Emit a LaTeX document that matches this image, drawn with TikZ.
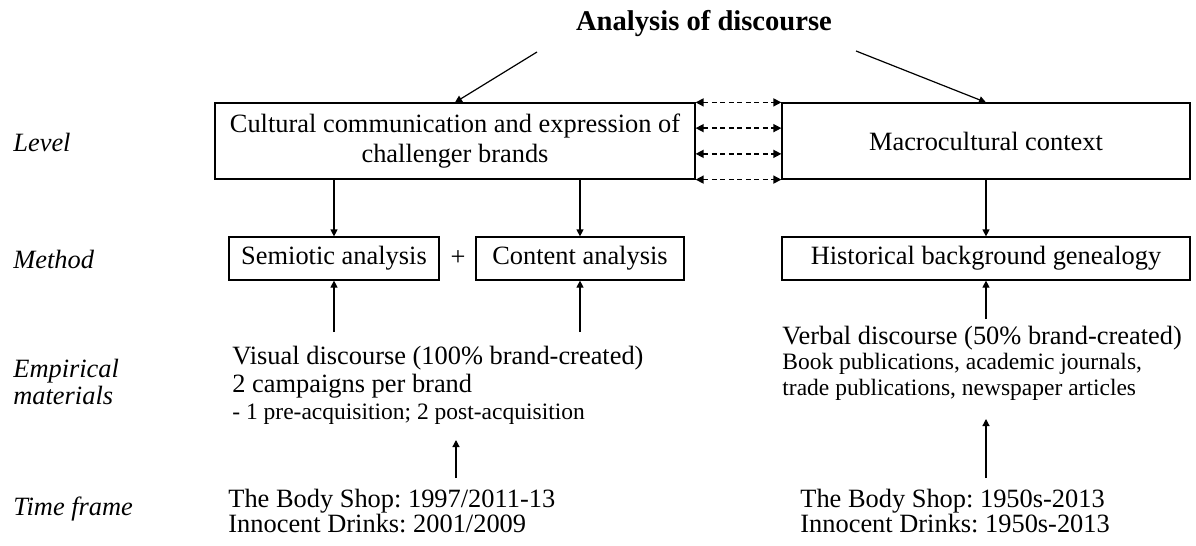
\documentclass[tikz,border=0pt]{standalone}
\usepackage{fontspec}
\setmainfont{Liberation Serif}
\usepackage{tikz}
\usetikzlibrary{positioning, arrows.meta, calc}

\newcommand{\mainsz}{\fontsize{13.2pt}{15pt}\selectfont}
\newcommand{\smallsz}{\fontsize{11.75pt}{12.5pt}\selectfont}
\frenchspacing

\tikzset{
    box/.style={draw, line width=0.6pt, inner sep=0pt, align=center, font=\mainsz},
    arr/.style={-{Triangle[length=3.5pt,width=3.5pt]}, line width=0.6pt},
    darr/.style={{Triangle[length=4pt,width=4pt]}-{Triangle[length=4pt,width=4pt]},
        line width=0.7pt, dash pattern=on 2.5pt off 1.75pt},
    rowlbl/.style={anchor=base west, inner sep=0pt, font=\mainsz\itshape},
    txt/.style={anchor=base west, inner sep=0pt, font=\mainsz},
    smalltxt/.style={anchor=base west, inner sep=0pt, font=\smallsz}
}

\begin{document}
\begin{tikzpicture}[x=0.5pt, y=-0.5pt]
    \useasboundingbox (0,0) rectangle (1196,546);

    % title
    \node[anchor=base, inner sep=0pt, font=\fontsize{14.3pt}{16pt}\selectfont\bfseries] (title) at (704,31) {Analysis of discourse};

    % row labels
    \node[rowlbl] (lLevel) at (13,151) {Level};
    \node[rowlbl] (lMethod) at (13,268) {Method};
    \node[rowlbl] (lEmp) at (13,377) {Empirical};
    \node[rowlbl] (lMat) at (13,404) {materials};
    \node[rowlbl] (lTime) at (13,515) {Time frame};

    % level
    \node[box, minimum width=240pt, minimum height=38pt] (cult) at (455,141)
        {Cultural communication and expression of\\challenger brands};
    \node[box, minimum width=204pt, minimum height=38pt] (macro) at (986,141) {Macrocultural context};

    % method
    \node[box, minimum width=105pt, minimum height=21.5pt] (semio) at (334,258.5) {Semiotic analysis};
    \node[inner sep=0pt, font=\mainsz] (plus) at (458,258.5) {+};
    \node[box, minimum width=104pt, minimum height=21.5pt] (content) at (580,258.5) {Content analysis};
    \node[box, minimum width=204pt, minimum height=21.5pt] (hist) at (986,258.5) {Historical background genealogy};

    % empirical materials
    \node[txt] (vis1) at (232,364) {Visual discourse (100\% brand-created)};
    \node[txt] (vis2) at (232,392) {2 campaigns per brand};
    \node[smalltxt] (vis3) at (232,419) {- 1 pre-acquisition; 2 post-acquisition};
    \node[txt] (verb1) at (782,344) {Verbal discourse (50\% brand-created)};
    \node[smalltxt] (verb2) at (782,369) {Book publications, academic journals,};
    \node[smalltxt] (verb3) at (782,395) {trade publications, newspaper articles};

    % time frame
    \node[txt] (tfA) at (228,507) {The Body Shop: 1997/2011-13};
    \node[txt] (tfB) at (228,532) {Innocent Drinks: 2001/2009};
    \node[txt] (tfC) at (800,507) {The Body Shop: 1950s-2013};
    \node[txt] (tfD) at (800,532) {Innocent Drinks: 1950s-2013};

    % arrow starts
    \coordinate (tL) at (537,52);
    \coordinate (tR) at (856,51);
    \coordinate (vA) at (334,332);
    \coordinate (vB) at (580,332);
    \coordinate (wA) at (986,319);
    \coordinate (fA) at (456,478);
    \coordinate (fB) at (986,478);

    \draw[arr] (tL) -- (cult.north);
    \draw[arr] (tR) -- (macro.north);
    \foreach \f in {0,0.3333,0.6667,1}
        \draw[darr] ($(cult.north east)!\f!(cult.south east)$) -- ($(macro.north west)!\f!(macro.south west)$);

    \draw[arr] (cult.south -| semio) -- (semio.north);
    \draw[arr] (cult.south -| content) -- (content.north);
    \draw[arr] (macro.south) -- (hist.north);

    \draw[arr] (vA) -- (semio.south);
    \draw[arr] (vB) -- (content.south);
    \draw[arr] (wA) -- (hist.south);

    \draw[arr] (fA) -- ++(0,-38);
    \draw[arr] (fB) -- ++(0,-59);
\end{tikzpicture}
\end{document}
